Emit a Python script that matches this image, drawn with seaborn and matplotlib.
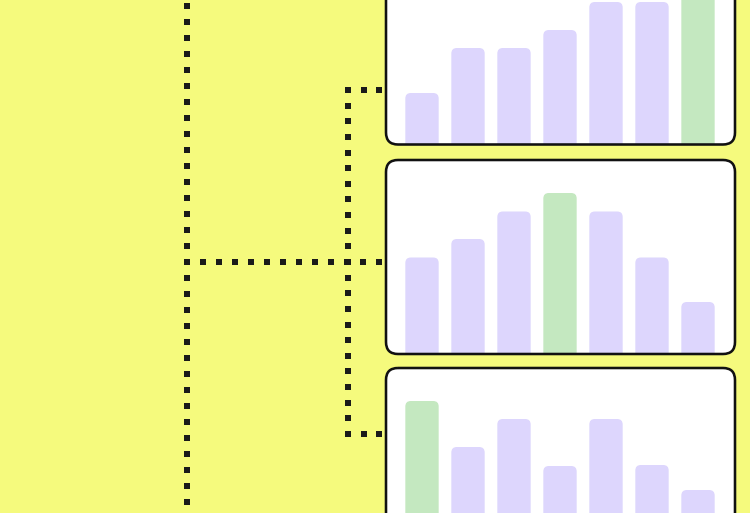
import numpy as np
import matplotlib
matplotlib.use("Agg")
import matplotlib.pyplot as plt
from matplotlib.patches import FancyBboxPatch
import seaborn as sns

# ---- data (bar heights) ----
categories = ["1", "2", "3", "4", "5", "6", "7"]
panel_top_values = [51.5, 96.5, 96.5, 114.5, 142.5, 142.5, 161.0]
panel_mid_values = [96.5, 115.0, 142.5, 161.0, 142.5, 96.5, 52.0]
panel_bot_values = [161.0, 115.0, 143.0, 96.0, 143.0, 97.0, 72.0]
highlight_index = [6, 3, 0]

YELLOW = "#F5FA7D"
LAVENDER = "#DDD6FD"
GREEN = "#C4E8C0"

W, H = 750, 513
sns.set_theme(style="white")
plt.rcParams["font.family"] = ["DejaVu Sans"]
fig = plt.figure(figsize=(W / 100, H / 100), dpi=100)
fig.patch.set_facecolor(YELLOW)

# background axes in pixel coordinates (y down)
bg = fig.add_axes([0, 0, 1, 1])
bg.set_xlim(0, W)
bg.set_ylim(H, 0)
bg.axis("off")

# dotted connectors (decoration)
dot_kw = dict(marker="s", s=22, color="#1a1a1a", linewidths=0, zorder=3)
ys = np.arange(6, H + 8, 16)
bg.scatter(np.full_like(ys, 187.0, dtype=float), ys, **dot_kw)
xs = np.arange(187, 380, 16)
bg.scatter(xs, np.full_like(xs, 262.0, dtype=float), **dot_kw)
ys2 = np.linspace(90, 434, 23)
bg.scatter(np.full_like(ys2, 348.0), ys2, **dot_kw)
xs2 = np.linspace(348, 379, 3)
bg.scatter(xs2, np.full_like(xs2, 90.0), **dot_kw)
bg.scatter(xs2, np.full_like(xs2, 434.0), **dot_kw)

PX0, PX1 = 386, 735
panels = [(-51, 144.5, panel_top_values), (160, 354, panel_mid_values), (368, 562, panel_bot_values)]

for (ptop, pbot, vals), hi in zip(panels, highlight_index):
    fill = FancyBboxPatch((PX0, ptop), PX1 - PX0, pbot - ptop,
                          boxstyle="round,pad=0,rounding_size=12",
                          facecolor="white", edgecolor="none", zorder=1)
    bg.add_patch(fill)

    # bar axes: slot width 46 px, first center at 422
    ax_x0 = 422 - 23
    ax_w = 46 * 7
    ax_h = 200
    ax = fig.add_axes([ax_x0 / W, 1 - pbot / H, ax_w / W, ax_h / H])
    ax.set_facecolor("none")
    palette = [GREEN if i == hi else LAVENDER for i in range(len(categories))]
    sns.barplot(x=categories, y=vals, hue=categories, palette=palette,
                legend=False, width=0.725, saturation=1, ax=ax)
    ax.set_xlim(-0.5, 6.5)
    ax.set_ylim(0, ax_h)
    ax.axis("off")

    # px per data unit
    px_x = ax_w / 7.0
    r_px = 5.5
    for p in list(ax.patches):
        x, w, h = p.get_x(), p.get_width(), p.get_height()
        col = p.get_facecolor()
        p.set_visible(False)
        rb = FancyBboxPatch((x, -12), w, h + 12,
                            boxstyle=f"round,pad=0,rounding_size={r_px / px_x}",
                            mutation_aspect=px_x, facecolor=col, edgecolor="none")
        ax.add_patch(rb)
        rb.set_clip_path(fill)

    border = FancyBboxPatch((PX0, ptop), PX1 - PX0, pbot - ptop,
                            boxstyle="round,pad=0,rounding_size=12",
                            facecolor="none", edgecolor="#111111", linewidth=1.85,
                            transform=bg.transData, zorder=5)
    fig.add_artist(border)

fig.savefig("out.png", dpi=100, facecolor=YELLOW)
